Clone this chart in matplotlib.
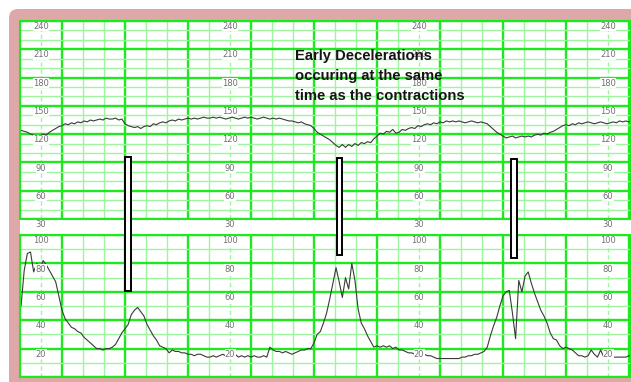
import numpy as np
import matplotlib.pyplot as plt
from matplotlib.patches import Rectangle, FancyBboxPatch
from matplotlib.transforms import IdentityTransform

# fetal heart rate (bpm) and uterine activity, sampled every 0.05 min from t=0.35
fhr = [124, 123, 122, 120, 119, 117, 118, 120, 119, 122, 124, 126, 128, 129, 131, 130, 132, 131, 133, 132,
       134, 133, 135, 134, 135, 136, 135, 137, 136, 136, 137, 135, 136, 131, 129, 128, 127, 128, 126, 128,
       129, 128, 131, 130, 132, 133, 132, 134, 135, 134, 136, 135, 136, 137, 136, 137, 136, 137, 138, 137,
       137, 138, 137, 138, 137, 136, 137, 138, 137, 136, 137, 138, 137, 138, 137, 136, 137, 138, 137, 136,
       137, 136, 137, 136, 135, 134, 134, 133, 132, 133, 131, 130, 129, 126, 122, 120, 118, 116, 114, 111,
       108, 106, 109, 106, 109, 107, 110, 108, 111, 110, 112, 111, 115, 118, 121, 120, 123, 122, 125, 121,
       122, 125, 124, 126, 127, 126, 129, 128, 130, 131, 130, 132, 131, 133, 132, 134, 133, 134, 133, 134,
       133, 132, 133, 134, 133, 132, 133, 132, 131, 128, 125, 122, 120, 118, 116, 117, 118, 116, 117, 118,
       117, 118, 117, 119, 120, 119, 121, 120, 122, 123, 125, 127, 129, 130, 129, 131, 130, 132, 131, 132,
       133, 132, 131, 132, 133, 132, 131, 132, 133, 132, 134, 133, 134, 133, 134]
uc = [50, 75, 87, 88, 74, 80, 76, 82, 79, 75, 71, 67, 57, 47, 41, 38, 35, 34, 32, 31,
      28, 26, 24, 22, 20, 20, 19, 20, 20, 21, 23, 27, 31, 34, 37, 44, 47, 49, 46, 43,
      37, 33, 29, 26, 22, 21, 20, 17, 19, 18, 18, 17, 17, 16, 16, 15, 16, 16, 15, 14,
      14, 15, 14, 15, 16, 15, 17, 15, 16, 14, 15, 14, 15, 14, 15, 14, 14, 15, 14, 21,
      19, 18, 18, 17, 18, 17, 16, 17, 18, 19, 19, 20, 20, 24, 30, 32, 38, 45, 55, 66,
      77, 67, 56, 70, 62, 80, 68, 48, 38, 34, 29, 25, 21, 22, 21, 22, 21, 22, 20, 21,
      19, 19, 18, 17, 17, 16, 16, 17, 16, 15, 15, 14, 13, 13, 13, 13, 13, 13, 13, 13,
      14, 14, 15, 15, 16, 16, 17, 18, 21, 29, 36, 42, 50, 57, 60, 61, 45, 27, 68, 60,
      71, 74, 66, 59, 53, 47, 43, 38, 31, 27, 26, 22, 20, 21, 20, 19, 17, 15, 15, 14,
      15, 19, 16, 14, 19, 14, 14, 14, 14, 14, 14, 14, 14, 15, 15]
t_fhr = 0.35 + 0.05 * np.arange(len(fhr))
t_uc = 0.35 + 0.05 * np.arange(len(uc))

fhr_labels = [240, 210, 180, 150, 120, 90, 60, 30]
uc_labels = [100, 80, 60, 40, 20]
label_cols = [2 / 3, 3 + 2 / 3, 6 + 2 / 3, 9 + 2 / 3]

# marker boxes: start/end time, top in bpm, bottom in uterine units
box_t0 = [2.00, 5.36, 8.13]
box_t1 = [2.10, 5.45, 8.22]
box_top = [96, 94.5, 93.5]
box_bottom = [60.5, 86, 84]

note = "Early Decelerations\noccuring at the same\ntime as the contractions"

W, H = 631, 382
major_c = '#1ee81e'
minor_c = '#9df59d'
trace_c = '#3a3a3a'
label_font = ['Liberation Sans Narrow', 'DejaVu Sans']

fig = plt.figure(figsize=(W / 100, H / 100), dpi=100)
fig.patch.set_facecolor('white')


def px_box(x0, y0, x1, y1):
    return [x0 / W, 1 - y1 / H, (x1 - x0) / W, (y1 - y0) / H]


# pink paper frame with a white sheet on it
frame = FancyBboxPatch((9, -20), 700, H - 9 + 20, boxstyle='round,pad=0,rounding_size=9',
                       transform=IdentityTransform(), fc='#dfa8a8', ec='none', zorder=-2)
fig.add_artist(frame)
fig.add_artist(Rectangle((20, 5), 620, H - 25, transform=IdentityTransform(),
                         fc='white', ec='none', zorder=-1))

ax_fhr = fig.add_axes(px_box(20, 21, 631, 219))
ax_uc = fig.add_axes(px_box(20, 235, 631, 377))

x0 = 1 + (20 - 62) / 63
x1 = 1 + (631 - 62) / 63
major_x = np.arange(1, 11)
minor_x = [k / 3 for k in range(1, 31) if k % 3 and (k - 2) % 9]

ax_fhr.set_ylim(30, 240)
ax_fhr.set_yticks(np.arange(30, 241, 30))
ax_fhr.set_yticks(np.arange(30, 241, 10), minor=True)
ax_uc.set_ylim(0, 100)
ax_uc.set_yticks(np.arange(0, 101, 20))
ax_uc.set_yticks(np.arange(0, 101, 10), minor=True)

for ax in (ax_fhr, ax_uc):
    ax.set_xlim(x0, x1)
    ax.set_xticks(major_x)
    ax.set_xticks(minor_x, minor=True)
    ax.tick_params(which='both', length=0, labelbottom=False, labelleft=False)
    ax.grid(which='minor', color=minor_c, lw=1.0)
    ax.grid(which='major', color=major_c, lw=1.7)
    ax.set_axisbelow(True)
    for s in ax.spines.values():
        s.set_color(major_c)
        s.set_linewidth(1.5)
    for c in label_cols:
        ax.axvline(c, color=minor_c, lw=1.0, ls=(0, (3, 2)), zorder=0.5)

ax_fhr.plot(t_fhr, fhr, color=trace_c, lw=0.8)
ax_uc.plot(t_uc, uc, color=trace_c, lw=0.8)

for c in label_cols:
    for v in fhr_labels:
        ax_fhr.text(c, v - 1.2, str(v), ha='center', va='top', fontsize=6, color='#707070',
                    family=label_font, clip_on=False, zorder=3,
                    bbox=dict(fc='white', ec='none', pad=0.2))
    for v in uc_labels:
        ax_uc.text(c, v - 0.8, str(v), ha='center', va='top', fontsize=6, color='#707070',
                   family=label_font, clip_on=False, zorder=3,
                   bbox=dict(fc='white', ec='none', pad=0.2))

ax_fhr.text(4.70, 210, note, ha='left', va='top', fontsize=10.6, fontweight='bold',
            family='Liberation Sans', color='#151515', linespacing=1.53, zorder=5)

# boxes spanning both panels
to_fig = fig.transFigure.inverted()
for a, b, top, bot in zip(box_t0, box_t1, box_top, box_bottom):
    xa, ya = to_fig.transform(ax_fhr.transData.transform((a, top)))
    xb, yb = to_fig.transform(ax_uc.transData.transform((b, bot)))
    fig.add_artist(Rectangle((xa, yb), xb - xa, ya - yb, fc='white', ec='black', lw=1.4, zorder=4))

fig.savefig('out.png', dpi=100)
